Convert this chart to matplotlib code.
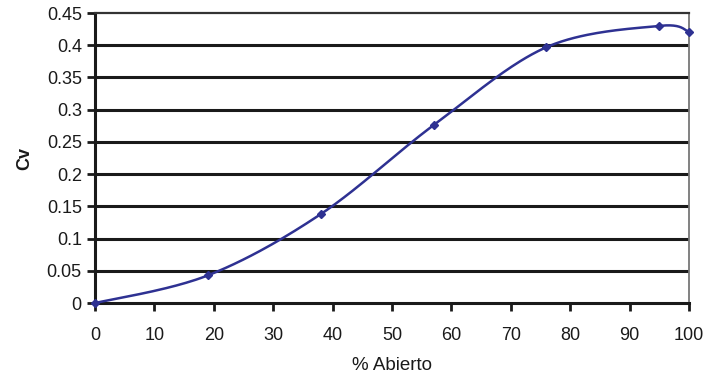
import numpy as np
import matplotlib
matplotlib.use("Agg")
import matplotlib.pyplot as plt

plt.rcParams['font.family'] = ['Liberation Sans', 'DejaVu Sans']

pct_open = [0, 19, 38, 57, 76, 95, 100]
cv = [0.0, 0.043, 0.138, 0.276, 0.397, 0.430, 0.421]
x_ticks = [0, 10, 20, 30, 40, 50, 60, 70, 80, 90, 100]
y_ticks = [0, 0.05, 0.1, 0.15, 0.2, 0.25, 0.3, 0.35, 0.4, 0.45]
y_ticklabels = ['0', '0.05', '0.1', '0.15', '0.2', '0.25', '0.3', '0.35', '0.4', '0.45']


def excel_smooth(xs, ys, n=40):
    P = np.column_stack([xs, ys]).astype(float)
    P = np.vstack([P[0], P, P[-1]])
    out = []
    for i in range(1, len(P) - 2):
        p0, p1, p2, p3 = P[i - 1], P[i], P[i + 1], P[i + 2]
        c1 = p1 + (p2 - p0) / 6.0
        c2 = p2 - (p3 - p1) / 6.0
        t = np.linspace(0, 1, n)[:, None]
        seg = ((1 - t) ** 3) * p1 + 3 * ((1 - t) ** 2) * t * c1 + 3 * (1 - t) * t ** 2 * c2 + t ** 3 * p2
        out.append(seg if i == 1 else seg[1:])
    c = np.vstack(out)
    return c[:, 0], c[:, 1]


fig = plt.figure(figsize=(7.23, 3.77), dpi=100)
ax = fig.add_axes([0.1314, 0.196, 0.8216, 0.7695])

sx, sy = excel_smooth(pct_open, cv)
ax.plot(sx, sy, color='#2e3192', lw=1.8, zorder=3, clip_on=False)
ax.plot(pct_open, cv, linestyle='none', marker='D', ms=4.5, color='#2e3192', zorder=4, clip_on=False)

ax.set_xlim(0, 100)
ax.set_ylim(0, 0.45)
ax.set_xticks(x_ticks)
ax.set_yticks(y_ticks)
ax.set_yticklabels(y_ticklabels)

for yv in y_ticks[1:-1]:
    ax.axhline(yv, color='#1a1a1a', lw=2.2, zorder=1)

for s in ['left', 'bottom']:
    ax.spines[s].set_color('#1a1a1a')
    ax.spines[s].set_linewidth(2.2)
ax.spines['top'].set_color('#333333')
ax.spines['top'].set_linewidth(1.6)
ax.spines['right'].set_color('#777777')
ax.spines['right'].set_linewidth(1.3)

ax.tick_params(axis='both', direction='out', length=5.5, width=2.0, color='#1a1a1a',
               labelsize=13, labelcolor='#1a1a1a')
ax.tick_params(axis='x', pad=12)
ax.tick_params(axis='y', pad=4)

ax.set_xlabel('% Abierto', fontsize=13.5, color='#1a1a1a', labelpad=9)
ax.set_ylabel('Cv', fontsize=13, fontweight='bold', color='#1a1a1a', labelpad=10)

fig.savefig('out.png', dpi=100)
